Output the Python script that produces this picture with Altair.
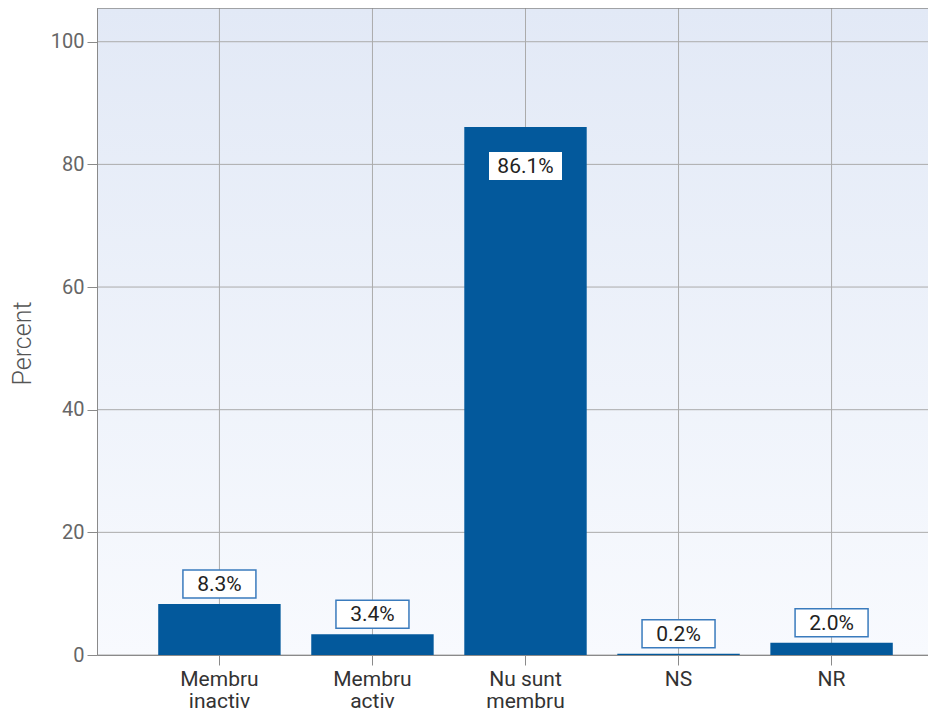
import altair as alt
import pandas as pd

categories = ["Membru inactiv", "Membru activ", "Nu sunt membru", "NS", "NR"]
percents = [8.3, 3.4, 86.1, 0.2, 2.0]
labels = ["8.3%", "3.4%", "86.1%", "0.2%", "2.0%"]
y_ticks = [0, 20, 40, 60, 80, 100]

df = pd.DataFrame({"cat": categories, "pct": percents, "label": labels})
tick_df = pd.DataFrame({"pct": y_ticks})
cat_df = pd.DataFrame({"cat": categories})

BAR = "#03599c"
FONT = "Roboto"
GRID = "#ababab"
EDGE = "#8a8a8a"

label_expr = (
    "datum.label == 'Nu sunt membru' ? ['Nu sunt', 'membru'] : "
    "(indexof(datum.label, ' ') > 0 ? split(datum.label, ' ') : datum.label)"
)

# full band range extends past the visible (clipped) right edge, as in the reference
xscale = alt.Scale(domain=categories, range=[0, 857], paddingInner=0.2, paddingOuter=0.4)
yscale = alt.Scale(domain=[0, 105.5], nice=False)

x = alt.X(
    "cat:N",
    sort=categories,
    scale=xscale,
    axis=alt.Axis(
        title=None, labelAngle=0, labelAlign="center", labelExpr=label_expr,
        labelFont=FONT, labelFontSize=21, labelColor="#333333",
        labelLineHeight=22, labelPadding=3, tickSize=10, tickColor=EDGE,
        domainColor=EDGE, grid=False, labelBaseline="top", zindex=1,
    ),
)
y = alt.Y(
    "pct:Q",
    scale=yscale,
    axis=alt.Axis(
        values=y_ticks, title="Percent", titleFont=FONT, titleFontSize=25,
        titleFontWeight=300, titleColor="#555555", titleX=-75, titleY=335,
        titleAngle=-90, titleAlign="center", titleBaseline="middle",
        labelFont=FONT, labelFontSize=20, labelColor="#666666", labelPadding=3,
        tickSize=10, tickColor=EDGE, domainColor=EDGE,
        grid=False, zindex=1,
    ),
)

one = alt.Chart(pd.DataFrame({"k": [0]}))

background = one.mark_rect(
    color={
        "gradient": "linear", "x1": 0, "y1": 0, "x2": 0, "y2": 1,
        "stops": [
            {"offset": 0, "color": "#e2e9f6"},
            {"offset": 1, "color": "#f8fafe"},
        ],
    }
).encode(
    x=alt.value(0), x2=alt.value("width"), y=alt.value(0), y2=alt.value("height")
)

ygrid = alt.Chart(tick_df).mark_rule(color=GRID, strokeWidth=1).encode(y=y)
xgrid = alt.Chart(cat_df).mark_rule(color=GRID, strokeWidth=1).encode(x=x)
top_border = one.mark_rule(color=EDGE, strokeWidth=1.5).encode(y=alt.value(0))

base = alt.Chart(df)

bars = base.mark_bar(color=BAR).encode(x=x, y=y)

box_shape = "M-1,-0.384L1,-0.384L1,0.384L-1,0.384Z"

small = base.transform_filter("datum.pct < 50")
large = base.transform_filter("datum.pct >= 50")

small_box = small.mark_point(
    shape=box_shape, size=73 * 73, filled=True, fill="white", stroke="#3a7bbd",
    strokeWidth=1.5, opacity=1, yOffset=-20,
).encode(x=x, y=y)
small_text = small.mark_text(
    font=FONT, fontSize=21, color="#222222", baseline="middle", yOffset=-19,
).encode(x=x, y=y, text="label:N")

large_box = large.mark_point(
    shape=box_shape, size=73 * 73, filled=True, fill="white", strokeWidth=0,
    opacity=1, yOffset=39,
).encode(x=x, y=y)
large_text = large.mark_text(
    font=FONT, fontSize=21, color="#222222", baseline="middle", yOffset=40,
).encode(x=x, y=y, text="label:N")

chart = (
    alt.layer(background, ygrid, xgrid, top_border, bars, small_box, small_text,
              large_box, large_text)
    .properties(
        width=831, height=647,
        autosize=alt.AutoSizeParams(type="none"),
        padding={"left": 89, "top": 0, "right": 0, "bottom": 57},
    )
    .configure_view(stroke=None)
)

chart.save("out.html", embed_options={"renderer": "svg", "actions": False})
